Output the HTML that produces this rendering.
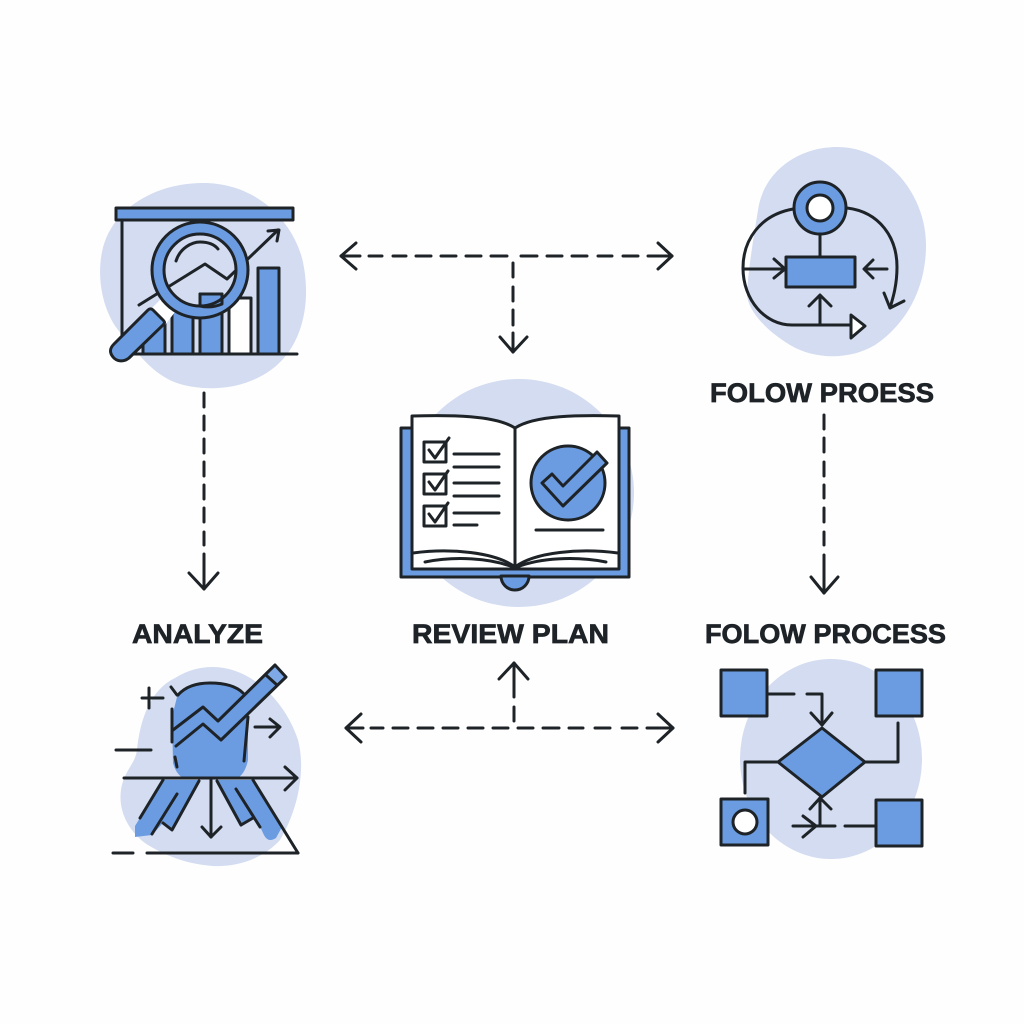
<!DOCTYPE html>
<html><head><meta charset="utf-8"><style>
html,body{margin:0;padding:0;background:#fefefe}
svg{display:block}
.s{fill:none;stroke:#1e2328;stroke-width:3;stroke-linecap:round;stroke-linejoin:round}
.b{fill:#6b9ce2;stroke:#1e2328;stroke-width:3;stroke-linejoin:round}
.w{fill:#fff;stroke:#1e2328;stroke-width:3;stroke-linejoin:round}
.d{fill:none;stroke:#1e2328;stroke-width:3;stroke-linecap:round;stroke-linejoin:round}
.blob{fill:#d3dcf0}
text{font-family:"Liberation Sans",sans-serif;font-weight:700;fill:#1e2328;font-size:26.5px;stroke:#1e2328;stroke-width:.7}
</style></head><body>
<svg width="1024" height="1024" viewBox="0 0 1024 1024" xmlns="http://www.w3.org/2000/svg">
<rect width="1024" height="1024" fill="#fefefe"/>

<!-- Blobs -->
<path class="blob" d="M203 183C258 183 292 222 302 258C311 295 306 340 276 366C250 388 212 393 180 384C152 376 134 348 118 330C100 306 96 270 104 244C116 206 158 183 203 183Z"/>
<path class="blob" d="M837 147C888 147 926 195 926 245C926 290 905 325 875 345C850 360 815 360 790 345C765 330 748 310 747 295C748 270 754 235 758 210C764 170 800 147 837 147Z"/>
<ellipse class="blob" cx="519" cy="493" rx="115" ry="114"/>
<path class="blob" d="M213 667C250 667 285 700 298 740C306 770 298 810 280 840C262 860 235 867 213 866C185 864 165 855 148 845C128 832 118 810 121 790C124 770 135 765 137 750C140 720 150 690 175 678C188 670 200 667 213 667Z"/>
<ellipse class="blob" cx="831" cy="759" rx="91" ry="100"/>

<!-- Icon 1: chart & magnifier -->
<g>
<line class="s" x1="122" y1="220" x2="122" y2="354"/>
<rect class="b" x="143" y="323" width="22" height="31"/>
<rect class="b" x="172" y="306" width="21" height="48"/>
<rect class="b" x="200" y="294" width="22" height="60"/>
<rect class="w" x="229" y="298" width="22" height="56"/>
<rect class="b" x="258" y="268" width="21" height="86"/>
<line class="s" x1="132" y1="354" x2="297" y2="354"/>
<rect class="b" x="116" y="208" width="177" height="12"/>
<polyline class="s" points="139,305 205,264 227,279 278,230"/>
<polyline class="s" points="268,231 279,230 277,241"/>
<polygon points="152,308 165,325 175,312 162,298" fill="#fff"/>
<circle cx="200" cy="270" r="42" fill="none" stroke="#6b9ce2" stroke-width="12"/>
<circle cx="200" cy="270" r="48" class="s"/>
<path class="s" d="M176 261C180 248 192 242 200 242C208 242 214 244 218 249"/>
<path d="M200 294h22v10a36 36 0 0 1-22 2z" class="b" />
<circle cx="200" cy="270" r="36" class="s"/>
<path class="b" d="M114 344L148 310C150 308 152 309 153 310L163 320C165 322 165 323 163 325L129 358C124 362 117 362 113 357C109 352 110 348 114 344Z"/>
</g>

<!-- Icon 2: process loop -->
<g>
<path class="s" d="M793 209C760 215 743 240 743 268C743 300 765 325 792 325L852 325"/>
<polygon class="w" points="851,315 865,326 851,338"/>
<path class="s" d="M847 208C880 212 897 238 897 267C897 285 893 298 890 308"/>
<polyline class="s" points="884,293 890,308 904,301"/>
<line class="s" x1="820" y1="234" x2="820" y2="257"/>
<rect class="b" x="786" y="257" width="69" height="30"/>
<circle class="b" cx="820" cy="208" r="26"/>
<circle class="w" cx="820" cy="208" r="13"/>
<line class="s" x1="743" y1="269" x2="783" y2="269"/>
<polyline class="s" points="774,259 785,269 774,278"/>
<line class="s" x1="887" y1="269" x2="865" y2="269"/>
<polyline class="s" points="873,260 864,269 873,278"/>
<line class="s" x1="820" y1="325" x2="820" y2="297"/>
<polyline class="s" points="809,306 820,295 831,306"/>
</g>

<!-- Icon 3: book -->
<g>
<rect class="b" x="401" y="428" width="228" height="149"/>
<path class="b" d="M501 576A14 14 0 0 0 529 576Z"/>
<path class="w" d="M412 416C450 415 495 415 515 428C535 415 580 415 619 416L619 569L515 569L412 569Z"/>
<path class="s" d="M413 553C450 548 495 552 515 567C535 552 580 548 618 553"/>
<path class="s" d="M425 562C455 556 490 558 513 567M517 567C540 558 575 556 606 562"/>
<line class="s" x1="515" y1="428" x2="515" y2="569"/>
<rect class="s" x="424" y="442" width="22" height="20"/>
<rect class="s" x="424" y="474" width="22" height="20"/>
<rect class="s" x="424" y="506" width="22" height="20"/>
<polyline class="s" points="429,450 435,458 449,438"/>
<polyline class="s" points="429,482 435,490 448,471"/>
<polyline class="s" points="429,514 435,522 448,503"/>
<path class="s" d="M454 454H499M454 467H499M454 483H499M454 496H499M454 513H499M454 525H477"/>
<circle class="b" cx="568" cy="483" r="37"/>
<polygon class="b" points="542,483 552,474 563,486 597,452 607,463 563,506"/>
<line class="s" x1="536" y1="530" x2="603" y2="530"/>
</g>

<!-- Icon 4: analyze -->
<g>
<path d="M178 693C190 685 200 683 210 683C225 683 236 686 243 693L248 717L248 760C246 770 242 775 238 778L183 778C178 775 175 770 173 763L172 717Z" fill="#6b9ce2"/>
<path d="M163 780L198 780L172 830L163 823L152 835L135 837L135 826Z" fill="#6b9ce2"/>
<path d="M217 780L253 780L282 827L276 838C270 842 266 840 263 833L256 818L241 825Z" fill="#6b9ce2"/>
<path d="M173 730L203 707L218 721L275 665L286 677L221 740L203 724L176 746Z" fill="#6b9ce2"/>
<path d="M267 676L275 665L286 677L277 685Z" fill="#7ea9e6"/>
<path class="s" d="M178 695C186 686 198 683 210 683C225 683 236 686 243 693"/>
<line class="s" x1="171" y1="687" x2="177" y2="695"/>
<path class="s" d="M172 709V742"/>
<path class="s" d="M175 757L177 767"/>
<path class="s" d="M248 717L244 761"/>
<polyline class="s" points="173,730 203,707 218,721 275,665 286,677 221,740 203,724 176,746"/>
<line class="s" x1="267" y1="676" x2="277" y2="685"/>
<path class="s" d="M142 698H163M149 688V708M116 750H151"/>
<line class="s" x1="255" y1="727" x2="279" y2="727"/>
<polyline class="s" points="270,719 280,727 270,737"/>
<line class="s" x1="124" y1="778" x2="297" y2="778"/>
<polyline class="s" points="285,767 297,778 285,790"/>
<path class="s" d="M163,780L140,818M177,794L152,834M163,823L172,830L199,781"/>
<path class="s" d="M217,781L241,825L253,818M236,789L260,827M253,780L298,853"/>
<line class="s" x1="211" y1="780" x2="211" y2="837"/>
<polyline class="s" points="202,827 211,837 221,827"/>
<path class="s" d="M113 853H133M147 853H298"/>
</g>

<!-- Icon 5: flowchart -->
<g>
<path class="s" d="M767 694H794M807 694H822V725"/>
<polyline class="s" points="811,713 822,725 832,713"/>
<path class="s" d="M865 762H898V723M778 762H745V793"/>
<rect class="b" x="721" y="670" width="46" height="46"/>
<rect class="b" x="876" y="670" width="46" height="46"/>
<rect class="b" x="721" y="799" width="47" height="46"/>
<circle class="w" cx="745" cy="822" r="12"/>
<rect class="b" x="876" y="800" width="46" height="46"/>
<polygon class="b" points="778,762 822,728 865,762 822,797"/>
<line class="s" x1="820" y1="825" x2="820" y2="798"/>
<polyline class="s" points="810,809 820,798 831,809"/>
<path class="s" d="M793 826H835M845 826H876"/>
<polyline class="s" points="803,816 816,826 803,837"/>
</g>

<!-- Dashed connectors -->
<g class="d">
<path class="d" d="M341 256H360M369 256H382M393 256H406M416 256H431M441 256H456M466 256H481M491 256H507M521 256H537M547 256H562M572 256H587M598 256H612M623 256H638M648 256H672"/>
<polyline class="d" points="356,243 341,256 356,269"/>
<polyline class="d" points="658,243 672,256 658,269"/>
<path class="d" d="M513 263V277M513 287V301M513 310V325M513 333V352"/>
<polyline class="d" points="500,337 513,352 527,337"/>

<path class="d" d="M204 393V407M204 416V430M204 439V453M204 462V476M204 485V499M204 508V522M204 532V545M204 554V589"/>
<polyline class="d" points="189,573 204,589 218,573"/>

<path class="d" d="M824 415V429M824 438V452M824 462V476M824 485V498M824 508V522M824 532V545M824 555V593"/>
<polyline class="d" points="811,577 824,593 838,577"/>

<path class="d" d="M346 728H363M371 728H383M393 728H408M418 728H433M443 728H458M468 728H483M493 728H508M518 728H533M543 728H559M569 728H583M595 728H610M622 728H637M647 728H673"/>
<polyline class="d" points="361,714 346,728 361,742"/>
<polyline class="d" points="658,714 673,728 658,742"/>
<path class="d" d="M514 663V697M514 707V721"/>
<polyline class="d" points="499,679 514,663 528,679"/>
</g>

<!-- Labels -->
<text x="132" y="643" textLength="131" lengthAdjust="spacingAndGlyphs">ANALYZE</text>
<text x="412" y="643" textLength="197" lengthAdjust="spacingAndGlyphs">REVIEW PLAN</text>
<text x="705" y="643" textLength="241" lengthAdjust="spacingAndGlyphs">FOLOW PROCESS</text>
<text x="710" y="402" textLength="224" lengthAdjust="spacingAndGlyphs">FOLOW PROESS</text>
</svg>
</body></html>
